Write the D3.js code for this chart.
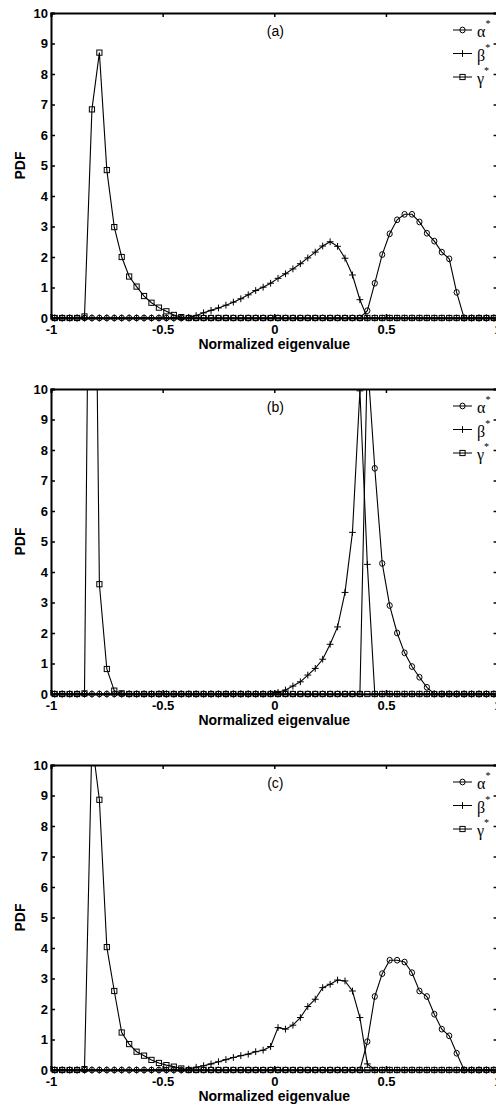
<!DOCTYPE html>
<html>
<head>
<meta charset="utf-8">
<script src="https://cdn.jsdelivr.net/npm/d3@7"></script>
<style>
  html, body { margin: 0; padding: 0; background: #fff; }
  svg { display: block; }
  text { font-family: Arial, "Liberation Sans", Helvetica, sans-serif; }
</style>
</head>
<body>
<svg id="chart" width="496" height="1109"></svg>
<script>
// Histogram bins: 60 bins of width 1/30 on [-1, 1]
const binCenters = d3.range(60).map(k => -1 + (k + 0.5) / 30);

const xTicks = [-1, -0.5, 0, 0.5, 1];
const xTickLabels = ["-1", "-0.5", "0", "0.5", "1"];
const yTicks = [0, 1, 2, 3, 4, 5, 6, 7, 8, 9, 10];
const panelLabels = ["(a)", "(b)", "(c)"];
const seriesNames = ["\u03b1", "\u03b2", "\u03b3"];
const xTitle = "Normalized eigenvalue";
const yTitle = "PDF";

// Panel (a)
const alphaA = [0,0,0,0,0,0,0,0,0,0, 0,0,0,0,0,0,0,0,0,0, 0,0,0,0,0,0,0,0,0,0,
  0,0,0,0,0,0,0,0,0,0, 0,0,0.24,1.14,2.08,2.76,3.22,3.40,3.40,3.15, 2.78,2.52,2.16,1.94,0.84,0,0,0,0,0];
const betaA = [0,0,0,0,0,0,0,0,0,0, 0,0,0,0,0,0,0,0,0.02,0.08, 0.17,0.25,0.33,0.42,0.52,0.63,0.76,0.90,1.01,1.14,
  1.30,1.45,1.61,1.78,1.97,2.16,2.36,2.50,2.35,1.96, 1.41,0.60,0,0,0,0,0,0,0,0, 0,0,0,0,0,0,0,0,0,0];
const gammaA = [0,0,0,0,0.05,6.84,8.70,4.85,2.98,2.00, 1.36,1.03,0.72,0.50,0.34,0.22,0.10,0.03,0,0, 0,0,0,0,0,0,0,0,0,0,
  0,0,0,0,0,0,0,0,0,0, 0,0,0,0,0,0,0,0,0,0, 0,0,0,0,0,0,0,0,0,0];

// Panel (b)
const alphaB = [0,0,0,0,0,0,0,0,0,0, 0,0,0,0,0,0,0,0,0,0, 0,0,0,0,0,0,0,0,0,0,
  0,0,0,0,0,0,0,0,0,0, 0,0,11.0,7.40,4.28,2.90,2.00,1.35,0.90,0.55, 0.22,0,0,0,0,0,0,0,0,0];
const betaB = [0,0,0,0,0,0,0,0,0,0, 0,0,0,0,0,0,0,0,0,0, 0,0,0,0,0,0,0,0,0,0.02,
  0.05,0.13,0.26,0.40,0.62,0.84,1.14,1.63,2.20,3.33, 5.30,9.94,4.25,0,0,0,0,0,0,0, 0,0,0,0,0,0,0,0,0,0];
const gammaB = [0,0,0,0,0.02,26.0,3.60,0.82,0.11,0.02, 0,0,0,0,0,0,0,0,0,0, 0,0,0,0,0,0,0,0,0,0,
  0,0,0,0,0,0,0,0,0,0, 0,0,0,0,0,0,0,0,0,0, 0,0,0,0,0,0,0,0,0,0];

// Panel (c)
const alphaC = [0,0,0,0,0,0,0,0,0,0, 0,0,0,0,0,0,0,0,0,0, 0,0,0,0,0,0,0,0,0,0,
  0,0,0,0,0,0,0,0,0,0, 0,0,0.93,2.41,3.16,3.60,3.60,3.54,3.19,2.59, 2.41,1.83,1.34,1.12,0.55,0,0,0,0,0];
const betaC = [0,0,0,0,0,0,0,0,0,0, 0,0,0,0,0,0,0,0,0.03,0.09, 0.14,0.20,0.27,0.34,0.41,0.47,0.52,0.60,0.65,0.77,
  1.39,1.34,1.47,1.72,2.08,2.32,2.70,2.81,2.95,2.92, 2.59,1.72,0.20,0,0,0,0,0,0,0, 0,0,0,0,0,0,0,0,0,0];
const gammaC = [0,0,0,0,0.03,10.8,8.86,4.03,2.59,1.23, 0.85,0.60,0.47,0.33,0.23,0.16,0.11,0.05,0,0, 0,0,0,0,0,0,0,0,0,0,
  0,0,0,0,0,0,0,0,0,0, 0,0,0,0,0,0,0,0,0,0, 0,0,0,0,0,0,0,0,0,0];

const panels = [
  { label: panelLabels[0], series: [alphaA, betaA, gammaA] },
  { label: panelLabels[1], series: [alphaB, betaB, gammaB] },
  { label: panelLabels[2], series: [alphaC, betaC, gammaC] }
];

const svg = d3.select("#chart");
const plotLeft = 51, plotRight = 497.6;
const panelTops = [13, 389, 765];
const plotH = 305;

const x = d3.scaleLinear().domain([-1, 1]).range([plotLeft, plotRight]);

// marker shapes: circle, plus, square
const markerTypes = ["circle", "plus", "square"];

function drawMarker(sel, type) {
  if (type === "circle") {
    sel.append("ellipse").attr("rx", 2.6).attr("ry", 2.9)
      .attr("fill", "none").attr("stroke", "#000").attr("stroke-width", 1);
  } else if (type === "square") {
    sel.append("rect").attr("x", -2.6).attr("y", -2.6).attr("width", 5.2).attr("height", 5.2)
      .attr("fill", "none").attr("stroke", "#000").attr("stroke-width", 1);
  } else {
    sel.append("path").attr("d", "M-3.4,0H3.4M0,-3.4V3.4")
      .attr("fill", "none").attr("stroke", "#000").attr("stroke-width", 1);
  }
}

panels.forEach((p, i) => {
  const top = panelTops[i];
  const y = d3.scaleLinear().domain([0, 10]).range([top + plotH, top]);
  const g = svg.append("g");

  // clip the curves at the top of the axes box; baseline markers stay whole
  const clipId = "clip" + i;
  svg.append("clipPath").attr("id", clipId)
    .append("rect").attr("x", plotLeft - 6).attr("y", top)
    .attr("width", plotRight - plotLeft + 12).attr("height", plotH + 8);

  const plot = g.append("g").attr("clip-path", `url(#${clipId})`);
  const line = d3.line().x((d, k) => x(binCenters[k])).y(d => y(d));

  // draw gamma first, then beta, then alpha on top
  [2, 1, 0].forEach(s => {
    const vals = p.series[s];
    plot.append("path").datum(vals)
      .attr("d", line)
      .attr("fill", "none").attr("stroke", "#000").attr("stroke-width", 1.1);
    plot.selectAll(null).data(vals).enter().append("g")
      .attr("transform", (d, k) => `translate(${x(binCenters[k])},${y(d)})`)
      .each(function () { drawMarker(d3.select(this), markerTypes[s]); });
  });

  // axes (ticks point inward)
  const axL = d3.axisLeft(y).tickValues(yTicks).tickSize(-4).tickPadding(3).tickFormat(d3.format("d"));
  const axR = d3.axisRight(y).tickValues(yTicks).tickSize(-4).tickFormat("");
  const axB = d3.axisBottom(x).tickValues(xTicks).tickSize(-4).tickPadding(7)
    .tickFormat((d, k) => xTickLabels[k]);
  const axT = d3.axisTop(x).tickValues(xTicks).tickSize(-4).tickFormat("");

  [
    g.append("g").attr("transform", `translate(${plotLeft},0)`).call(axL),
    g.append("g").attr("transform", `translate(${plotRight},0)`).call(axR),
    g.append("g").attr("transform", `translate(0,${top + plotH})`).call(axB),
    g.append("g").attr("transform", `translate(0,${top})`).call(axT)
  ].forEach(a => {
    a.select(".domain").attr("stroke", "#000").attr("stroke-width", 2);
    a.selectAll(".tick line").attr("stroke", "#000").attr("stroke-width", 1.5);
    a.selectAll(".tick text").attr("fill", "#000")
      .style("font-size", "13px").style("font-weight", "bold");
  });

  // panel label
  g.append("text").attr("x", x(0) + 1).attr("y", top + 23)
    .attr("text-anchor", "middle").style("font-size", "14px").text(p.label);

  // axis titles
  g.append("text").attr("x", (plotLeft + plotRight) / 2).attr("y", top + plotH + 31)
    .attr("text-anchor", "middle").style("font-size", "14px").style("font-weight", "bold")
    .text(xTitle);
  g.append("text")
    .attr("transform", `translate(25,${top + plotH / 2}) rotate(-90)`)
    .attr("text-anchor", "middle").style("font-size", "14px").style("font-weight", "bold")
    .text(yTitle);

  // legend
  const leg = g.append("g");
  seriesNames.forEach((name, s) => {
    const ly = top + 17 + s * 23.5;
    leg.append("line").attr("x1", 453).attr("x2", 472).attr("y1", ly).attr("y2", ly)
      .attr("stroke", "#000").attr("stroke-width", 1);
    const mg = leg.append("g").attr("transform", `translate(462.5,${ly})`);
    drawMarker(mg, markerTypes[s]);
    const t = leg.append("text").attr("x", 477).attr("y", ly + 7)
      .style("font-family", "'Liberation Serif', 'Times New Roman', serif")
      .style("font-size", "16px");
    t.append("tspan").text(name);
    t.append("tspan").attr("dy", -10).style("font-size", "10px").text("*");
  });
});
</script>
</body>
</html>
